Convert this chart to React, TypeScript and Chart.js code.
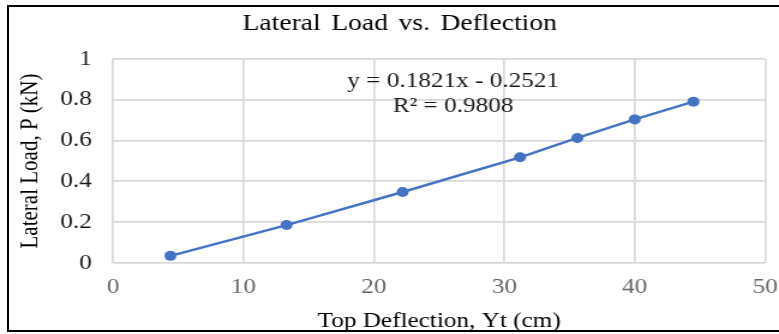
import React, { useEffect, useRef } from "react";
import { Chart, registerables } from "chart.js";

Chart.register(...registerables);

// ---- data ----
const deflection: number[] = [4.4, 13.3, 22.2, 31.2, 35.6, 40.0, 44.5];
const load: number[] = [0.035, 0.186, 0.348, 0.518, 0.613, 0.704, 0.791];
const chartTitle = "Lateral Load vs. Deflection";
const xAxisTitle = "Top Deflection, Yt (cm)";
const yAxisTitle = "Lateral Load, P (kN)";
const equationLines: string[] = ["y = 0.1821x - 0.2521", "R\u00B2 = 0.9808"];
const xRange: number[] = [0, 50, 10];
const yRange: number[] = [0, 1, 0.2];

const SERIF = "'Liberation Serif', 'Times New Roman', serif";
const W = 779;
const H = 334;
const IW = 649; // internal canvas width (image is horizontally stretched)

const textPlugin = {
  id: "textPlugin",
  afterDraw(chart: any) {
    const ctx = chart.ctx as CanvasRenderingContext2D;
    ctx.save();
    ctx.fillStyle = "#000000";
    ctx.textAlign = "center";
    ctx.textBaseline = "middle";
    ctx.font = `23px ${SERIF}`;
    try {
      (ctx as any).wordSpacing = "3px";
    } catch (e) {}
    ctx.fillText(chartTitle, 333, 24);
    try {
      (ctx as any).wordSpacing = "0px";
    } catch (e) {}
    ctx.font = `21px ${SERIF}`;
    ctx.fillStyle = "#1a1a1a";
    ctx.fillText(equationLines[0], 377.5, 81);
    ctx.fillText(equationLines[1], 377.5, 106);
    ctx.restore();
  },
};

export default function App() {
  const ref = useRef<HTMLCanvasElement | null>(null);

  useEffect(() => {
    if (!ref.current) return;
    const points = deflection.map((d, i) => ({ x: d, y: load[i] }));
    const chart = new Chart(ref.current, {
      type: "scatter",
      data: {
        datasets: [
          {
            data: points,
            showLine: true,
            borderColor: "#4472C4",
            backgroundColor: "#4472C4",
            borderWidth: 2.4,
            pointRadius: 5,
            pointBorderWidth: 0,
          },
        ],
      },
      plugins: [textPlugin],
      options: {
        responsive: false,
        animation: false,
        devicePixelRatio: 1,
        layout: { padding: { top: 59, right: 11.5, left: 0, bottom: 0 } },
        plugins: {
          legend: { display: false },
          title: { display: false },
          tooltip: { enabled: false },
        },
        scales: {
          x: {
            type: "linear",
            min: xRange[0],
            max: xRange[1],
            border: { display: false },
            grid: { color: "#d9d9d9", lineWidth: 1.7, drawTicks: false },
            ticks: {
              stepSize: xRange[2],
              maxRotation: 0,
              autoSkip: false,
              padding: 11.4,
              color: "#666666",
              font: { family: SERIF, size: 21 },
            },
            title: {
              display: true,
              text: xAxisTitle,
              color: "#000000",
              font: { family: SERIF, size: 21 },
              padding: { top: 0, bottom: 0.4 },
            },
            afterFit(scale: any) {
              scale.height = 71;
              scale.paddingLeft = 0;
              scale.paddingRight = 0;
            },
          },
          y: {
            type: "linear",
            min: yRange[0],
            max: yRange[1],
            border: { display: false },
            grid: { color: "#d9d9d9", lineWidth: 1.8, drawTicks: false },
            ticks: {
              stepSize: yRange[2],
              padding: 17.8,
              color: "#1a1a1a",
              font: { family: SERIF, size: 21 },
              callback: (v: any) => String(Number(Number(v).toFixed(1))),
            },
            title: {
              display: true,
              text: yAxisTitle,
              color: "#000000",
              font: { family: SERIF, size: 21 },
              padding: { top: 12.4, bottom: 0 },
            },
            afterFit(scale: any) {
              scale.width = 94.2;
              scale.paddingTop = 0;
              scale.paddingBottom = 0;
            },
          },
        },
      } as any,
    });
    return () => chart.destroy();
  }, []);

  return (
    <div
      style={{
        position: "fixed",
        left: 0,
        top: 0,
        width: W,
        height: H,
        overflow: "hidden",
        background: "#ffffff",
      }}
    >
      <div
        style={{
          position: "absolute",
          left: 7,
          top: 5,
          width: 800,
          height: 327,
          boxSizing: "border-box",
          border: "2px solid #000000",
        }}
      />
      <canvas
        ref={ref}
        width={IW}
        height={H}
        style={{
          position: "absolute",
          left: 0,
          top: 0,
          width: `${W}px`,
          height: `${H}px`,
          display: "block",
        }}
      />
    </div>
  );
}
